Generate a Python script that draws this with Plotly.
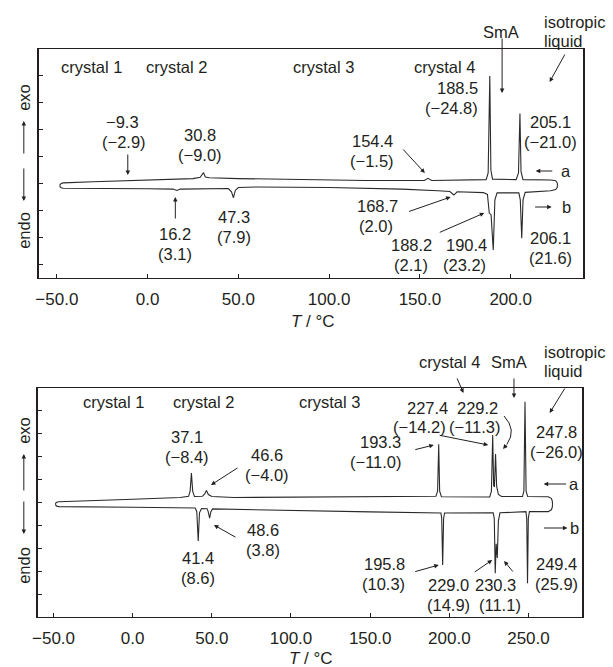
import plotly.graph_objects as go

# ---------------- data ----------------
# top panel: trace a (cooling, exo up) and trace b (heating, endo down)
top_a_T = [-48.3, -48.2, -47.6, -46.5, -30, -10, 10, 25, 29, 30.8, 31.8, 34, 50, 80, 120,
           152.5, 154.4, 156.5, 175, 186.5, 187.6, 188.5, 189.1, 190, 203, 204.3, 205.1,
           205.7, 206.8, 222, 224.8, 225.6, 225.8]
top_a_y = [3.93, 3.97, 4.01, 4.03, 4.07, 4.11, 4.14, 4.19, 4.24, 4.41, 4.25, 4.22, 4.19, 4.15, 4.12,
           4.12, 4.20, 4.12, 4.14, 4.15, 4.40, 8.00, 4.50, 4.17, 4.15, 4.40, 6.61,
           4.45, 4.15, 4.14, 4.11, 4.04, 3.95]
top_b_T = [-48.3, -48.2, -47.6, -46.5, 0, 14, 16.2, 18, 44.5, 46.2, 47.3, 48.3, 50, 60, 100,
           140, 160, 166.5, 168.7, 170.5, 185, 187.2, 188.2, 189.2, 190.4, 191.3, 192.5,
           204.5, 205.3, 206.1, 206.8, 208, 222, 224.8, 225.6, 225.8]
top_b_y = [3.93, 3.88, 3.85, 3.83, 3.81, 3.80, 3.75, 3.80, 3.82, 3.70, 3.48, 3.75, 3.86, 3.88, 3.86,
           3.80, 3.74, 3.71, 3.58, 3.70, 3.67, 3.60, 2.91, 2.85, 1.54, 3.40, 3.66,
           3.66, 3.40, 1.98, 3.40, 3.68, 3.74, 3.78, 3.86, 3.95]

# bottom panel
bot_a_T = [-48.7, -48.6, -48.0, -46.5, 0, 30, 35.3, 36.3, 37.1, 37.9, 39, 44, 45.5, 46.6, 47.8,
           50, 64, 120, 191.5, 192.6, 193.3, 193.9, 195, 225.5, 226.6, 227.4, 228.0, 228.5,
           229.2, 229.9, 231, 233, 246.2, 247.1, 247.8, 248.5, 249.5, 262.5, 264.4, 265.0, 265.2]
bot_a_y = [4.93, 4.98, 5.01, 5.03, 5.14, 5.22, 5.27, 5.50, 6.29, 5.50, 5.26, 5.27, 5.38, 5.52, 5.35,
           5.26, 5.22, 5.25, 5.27, 5.50, 7.54, 5.50, 5.25, 5.24, 5.50, 7.95, 5.75, 5.68,
           7.12, 5.70, 5.35, 5.26, 5.26, 5.50, 9.40, 5.50, 5.26, 5.25, 5.18, 5.08, 4.93]
bot_b_T = [-48.7, -48.6, -48.0, -46.5, 0, 39.5, 40.5, 41.4, 42.2, 43.5, 47, 47.7, 48.6, 49.4,
           50.5, 100, 150, 194.7, 195.2, 195.8, 196.4, 197, 227.7, 228.4, 229.0, 229.6, 230.3,
           231.0, 232, 248.4, 248.9, 249.4, 249.9, 250.6, 262.5, 264.4, 265.0, 265.2]
bot_b_y = [4.93, 4.88, 4.84, 4.82, 4.79, 4.76, 4.60, 3.32, 4.55, 4.74, 4.73, 4.60, 4.32, 4.60,
           4.72, 4.67, 4.59, 4.54, 4.30, 2.27, 4.30, 4.54, 4.55, 4.30, 1.91, 3.20, 2.58,
           4.20, 4.55, 4.60, 4.30, 1.47, 4.30, 4.60, 4.60, 4.68, 4.78, 4.93]

top_xticks = [-50, 0, 50, 100, 150, 200]
bot_xticks = [-50, 0, 50, 100, 150, 200, 250]
top_xtext = ["\u221250.0", "0.0", "50.0", "100.0", "150.0", "200.0"]
bot_xtext = ["\u221250.0", "0.0", "50.0", "100.0", "150.0", "200.0", "250.0"]
top_yticks = [1, 2, 3, 4, 5, 6, 7, 8]
bot_yticks = [1, 2, 3, 4, 5, 6, 7, 8, 9]

# ---------------- figure ----------------
W, H = 613, 667
FONT = "Liberation Sans, Arial, Helvetica, sans-serif"
INK = "#231f20"
FS = 16.5
TFS = 17

fig = go.Figure()
line = dict(color="#2a2a2a", width=1.1)
for T, y in [(top_a_T, top_a_y), (top_b_T, top_b_y)]:
    fig.add_trace(go.Scatter(x=T, y=y, mode="lines", line=line, xaxis="x", yaxis="y",
                             showlegend=False, hoverinfo="skip"))
for T, y in [(bot_a_T, bot_a_y), (bot_b_T, bot_b_y)]:
    fig.add_trace(go.Scatter(x=T, y=y, mode="lines", line=line, xaxis="x2", yaxis="y2",
                             showlegend=False, hoverinfo="skip"))


def px(x):
    return x / W


def py(y):
    return 1 - y / H


axis_common = dict(showline=True, linecolor=INK, linewidth=1.4, mirror=True, ticks="inside",
                   ticklen=4, tickwidth=1, tickcolor=INK, showgrid=False, zeroline=False)

fig.update_layout(
    width=W, height=H, margin=dict(l=0, r=0, t=0, b=0),
    paper_bgcolor="white", plot_bgcolor="white",
    font=dict(family=FONT, size=FS, color=INK),
    hovermode=False,
    xaxis=dict(axis_common, domain=[px(33), px(583)], range=[-60, 240], anchor="y",
               tickvals=top_xticks, ticktext=top_xtext, tickfont=dict(size=TFS),
               ticklabelstandoff=5),
    yaxis=dict(axis_common, domain=[py(278), py(49)], range=[0.5, 9.0], anchor="x",
               tickvals=top_yticks, showticklabels=False),
    xaxis2=dict(axis_common, domain=[px(32), px(582)], range=[-60, 284], anchor="y2",
                tickvals=bot_xticks, ticktext=bot_xtext, tickfont=dict(size=TFS),
                ticklabelstandoff=5),
    yaxis2=dict(axis_common, domain=[py(617), py(388)], range=[0, 10], anchor="x2",
                tickvals=bot_yticks, showticklabels=False),
)

ann = []


def label(text, x, y, anchor="center", angle=0, size=FS):
    ann.append(dict(text=text, x=px(x), y=py(y), xref="paper", yref="paper",
                    xanchor=anchor, yanchor="middle", showarrow=False, textangle=angle,
                    borderpad=0, font=dict(size=size, color=INK, family=FONT)))


def arrow(x0, y0, x1, y1):
    ann.append(dict(text="", x=px(x1), y=py(y1), xref="paper", yref="paper",
                    ax=x0 - x1, ay=y0 - y1, axref="pixel", ayref="pixel", showarrow=True,
                    arrowhead=2, arrowsize=0.9, arrowwidth=1, arrowcolor=INK))


# ---- top panel text ----
for t, x, y in [("crystal 1", 86, 67), ("crystal 2", 172, 67), ("crystal 3", 321, 67),
                ("crystal 4", 443, 67), ("SmA", 500, 32),
                ("\u22129.3", 118, 122), ("(\u22122.9)", 119, 142),
                ("30.8", 196, 135), ("(\u22129.0)", 196, 155),
                ("16.2", 171, 234), ("(3.1)", 171, 254),
                ("47.3", 230, 217), ("(7.9)", 230, 237),
                ("154.4", 370, 141), ("(\u22121.5)", 370, 161),
                ("168.7", 375, 206), ("(2.0)", 374, 226),
                ("188.2", 410, 245), ("(2.1)", 409, 265),
                ("190.4", 465, 245), ("(23.2)", 463, 265),
                ("205.1", 550, 122), ("(\u221221.0)", 550, 142),
                ("a", 566, 171), ("b", 566, 207),
                ("206.1", 550, 238), ("(21.6)", 550, 258)]:
    label(t, x, y)
label("188.5", 478, 88, "right")
label("(\u221224.8)", 478, 108, "right")
label("isotropic", 542, 22, "left")
label("liquid", 542, 41, "left")
label("exo", 18, 97, angle=-90)
label("endo", 18, 230, angle=-90)
label("<i>T</i> / \u00b0C", 310, 321, size=TFS)

for a in [(501, 37, 501, 93), (565, 53, 549, 82), (123, 153, 123, 175), (171, 220, 171, 197),
          (400, 148, 423, 173), (406, 212, 449, 197), (437, 233, 483, 213),
          (553, 171, 535, 171), (533, 207, 551, 207), (18, 155, 18, 121), (18, 167, 18, 201)]:
    arrow(*a)

# ---- bottom panel text ----
for t, x, y in [("crystal 1", 109, 402), ("crystal 2", 199, 402), ("crystal 3", 327, 402),
                ("crystal 4", 448, 362), ("SmA", 508, 362),
                ("227.4", 426, 408), ("(\u221214.2)", 418, 427),
                ("229.2", 476, 408), ("(\u221211.3)", 474, 427),
                ("193.3", 378, 442), ("(\u221211.0)", 374, 462),
                ("247.8", 556, 432), ("(\u221226.0)", 556, 452),
                ("a", 574, 484), ("b", 574, 528),
                ("37.1", 183, 437), ("(\u22128.4)", 183, 457),
                ("46.6", 264, 455), ("(\u22124.0)", 264, 475),
                ("41.4", 194, 558), ("(8.6)", 194, 578),
                ("48.6", 260, 530), ("(3.8)", 260, 550),
                ("195.8", 382, 564), ("(10.3)", 381, 584),
                ("229.0", 447, 585), ("(14.9)", 447, 605),
                ("230.3", 494, 585), ("(11.1)", 499, 605),
                ("249.4", 556, 564), ("(25.9)", 556, 584)]:
    label(t, x, y)
label("isotropic", 542, 352, "left")
label("liquid", 542, 371, "left")
label("exo", 18, 430, angle=-90)
label("endo", 18, 565, angle=-90)
label("<i>T</i> / \u00b0C", 308, 658, size=TFS)

for a in [(455, 377, 462, 393), (513, 377, 513, 398), (565, 387, 549, 413),
          (437, 435, 487, 445), (412, 450, 432, 445), (567, 484, 543, 484),
          (542, 528, 567, 528), (235, 467, 207, 485), (233, 538, 210, 525),
          (412, 572, 437, 565), (472, 573, 491, 560), (513, 573, 503, 561),
          (18, 492, 18, 454), (18, 500, 18, 534), (507, 443, 502, 449)]:
    arrow(*a)

fig.update_layout(annotations=ann)

# curved arrow shaft (229.2)
fig.add_shape(type="path", xref="paper", yref="paper",
              path=f"M {px(503)},{py(416)} Q {px(516)},{py(430)} {px(506)},{py(444)}",
              line=dict(color=INK, width=1))

fig.write_html("out.html", config={"displayModeBar": False, "staticPlot": True},
               post_script="document.body.style.margin='0';document.body.style.overflow='hidden';")
